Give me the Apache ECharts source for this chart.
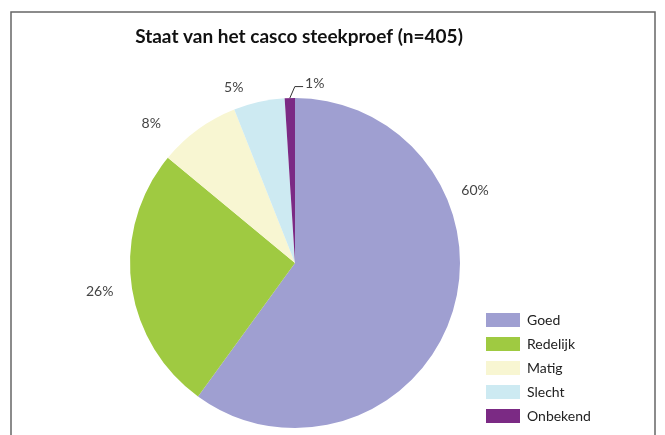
<!DOCTYPE html>
<html>
<head>
<meta charset="utf-8">
<style>
  html, body { margin: 0; padding: 0; background: #fff; }
  #chart { width: 665px; height: 435px; }
</style>
<script src="https://cdn.jsdelivr.net/npm/echarts@6/dist/echarts.min.js"></script>
</head>
<body>
<div id="chart"></div>
<script>
// staat van het casco, percentages per categorie
const categories = ['Goed', 'Redelijk', 'Matig', 'Slecht', 'Onbekend']
const values = [60, 26, 8, 5, 1]
const colors = ['#9f9fd1', '#9fca41', '#f8f6d2', '#cdeaf2', '#7b2a84']

// nudges so labels sit where the original put them
const labelShift = [[-15, -127], [7, 6], [-17, 4], [0, -3], [48, -3]]

const chart = echarts.init(document.getElementById('chart'))

const pieData = categories.map(function(name, i) {
  return {
    name: name,
    value: values[i],
    itemStyle: { color: colors[i] },
    labelLine: { show: name === 'Onbekend' }
  }
})

chart.setOption({
  animation: false,
  textStyle: { fontFamily: 'Lato' },
  title: {
    text: 'Staat van het casco steekproef (n=405)',
    left: 294,
    top: 22,
    textAlign: 'center',
    textStyle: { fontFamily: 'Lato', fontSize: 19, fontWeight: 'bold', color: '#111' }
  },
  graphic: [
    {
      type: 'rect',
      shape: { x: 11, y: 12, width: 644, height: 440 },
      style: { fill: 'none', stroke: '#666', lineWidth: 1.5 },
      silent: true
    }
  ],
  legend: {
    orient: 'vertical',
    left: 486,
    top: 313,
    padding: 0,
    itemWidth: 34,
    itemHeight: 14,
    itemGap: 10,
    icon: 'rect',
    textStyle: { fontFamily: 'Lato', fontSize: 14, color: '#222', padding: [0, 0, 0, 2] },
    data: categories
  },
  series: [
    {
      type: 'pie',
      center: [295, 263],
      radius: 165,
      startAngle: 90,
      clockwise: true,
      avoidLabelOverlap: false,
      label: {
        show: true,
        position: 'outside',
        formatter: '{c}%',
        fontFamily: 'Lato',
        fontSize: 14,
        color: '#444'
      },
      labelLine: {
        length: 12,
        length2: 8,
        lineStyle: { color: '#333', width: 1 }
      },
      labelLayout: function(params) {
        const s = labelShift[params.dataIndex]
        const out = { dx: s[0], dy: s[1] }
        const pts = params.labelLinePoints
        if (pts && categories[params.dataIndex] === 'Onbekend') {
          // leader: from the slice edge up, then right towards the text
          const r = params.labelRect
          const left = r.x + s[0] - 2
          const lineY = r.y + s[1] + r.height * 0.75
          out.labelLinePoints = [pts[0], [pts[0][0] + 5, lineY], [left, lineY]]
        }
        return out
      },
      data: pieData
    }
  ]
})
</script>
</body>
</html>
